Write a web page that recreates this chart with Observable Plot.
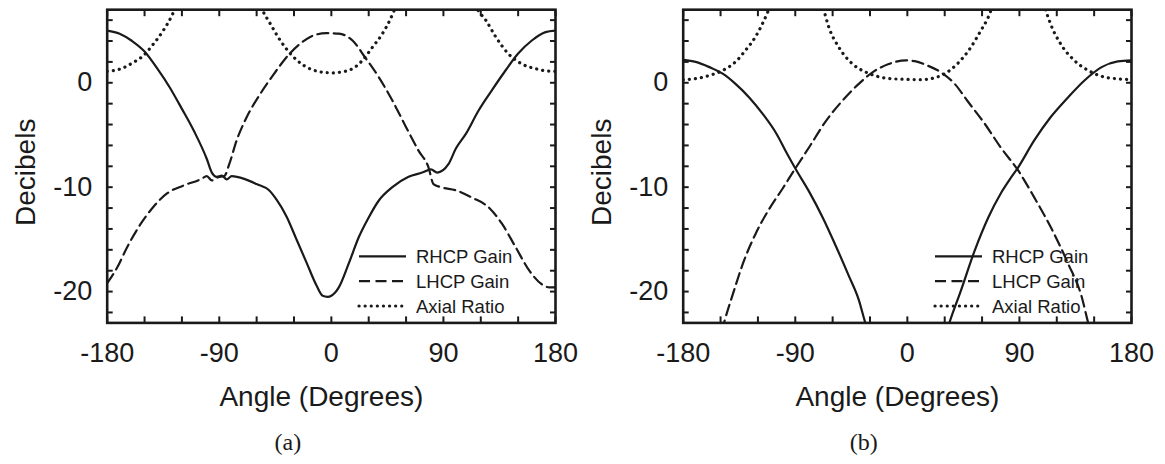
<!DOCTYPE html>
<html>
<head>
<meta charset="utf-8">
<script src="https://cdn.jsdelivr.net/npm/d3@7"></script>
<script src="https://cdn.jsdelivr.net/npm/@observablehq/plot@0.6"></script>
<style>
  body { margin: 0; background: #fff; }
  #fig { position: relative; width: 1165px; height: 464px; }
  #fig svg { position: absolute; top: 0; overflow: visible; }
</style>
</head>
<body>
<div id="fig"></div>
<script>
// Tick values
const xLabelTicks = [-180, -90, 0, 90, 180];
const xMinorTicks = [-180, -150, -120, -90, -60, -30, 0, 30, 60, 90, 120, 150, 180];
const yLabelTicks = [-20, -10, 0];
const yMinorTicks = [-22, -20, -18, -16, -14, -12, -10, -8, -6, -4, -2, 0, 2, 4, 6];

const seriesNames = ["RHCP Gain", "LHCP Gain", "Axial Ratio"];
const panelCaptions = ["(a)", "(b)"];

// Panel (a)
const aRhcpAngle = [-180,-170,-160,-150,-140,-130,-120,-110,-100,-96,-92,-88,-84,-80,-70,-60,-50,-44,-36,-28,-20,-12,-7,-3,0,6,14,22,30,38,49,62,73,80,85,94,100,108,118,129,140,150,161,172,180];
const aRhcpDb    = [5.0,4.7,4.0,3.0,1.4,-0.4,-2.5,-4.7,-7.3,-8.6,-9.0,-8.9,-9.25,-8.95,-9.2,-9.7,-10.3,-11.2,-12.8,-15.0,-17.2,-19.4,-20.4,-20.5,-20.4,-19.6,-17.3,-14.8,-12.9,-11.3,-10.0,-9.0,-8.6,-8.3,-8.6,-7.8,-6.3,-4.9,-2.7,-0.7,1.2,2.8,4.05,4.85,5.0];

const aLhcpAngle = [-180,-172,-164,-153,-143,-132,-119,-105,-100,-96,-91,-86,-82,-76,-68,-57,-46,-36,-25,-14,-4,6,17,27,38,49,60,70,78,82,88,100,113,126,137,148,159,169,175,180];
const aLhcpDb    = [-19.2,-17.7,-15.75,-13.5,-11.9,-10.6,-9.85,-9.25,-8.95,-9.35,-9.05,-8.95,-7.8,-5.5,-3.3,-1.05,0.86,2.45,3.75,4.55,4.75,4.7,4.05,2.45,0.55,-1.7,-4.25,-6.5,-8.1,-9.7,-10.0,-10.3,-11.0,-11.9,-13.5,-15.75,-18.0,-19.3,-19.6,-19.6];

const aArAngle = [-180,-170,-159,-151,-143,-135,-128,-122,-110,-90,-70,-60,-56,-49,-41,-33,-22,-11,0,6,17,25,33,41,47,50,54,70,90,110,115,118,124,132,142,153,164,177,180];
const aArDb    = [1.1,1.3,1.95,2.6,3.7,5.0,6.45,8.2,12,25,12,8.2,7.1,5.65,4.05,2.8,1.65,1.1,0.95,1.0,1.35,2.15,3.4,4.7,6.0,6.8,8.0,16,25,9.0,7.5,6.9,6.0,4.4,2.8,1.8,1.35,1.1,1.1];

// Panel (b)
const bRhcpAngle = [-180,-170,-159,-148,-138,-127,-116,-105,-97,-89,-79,-68,-57,-47,-39,-34,-31,0,31,34,43,54,65,75,82,89,102,115,129,142,156,169,180];
const bRhcpDb    = [2.2,2.0,1.5,0.85,-0.1,-1.4,-3.0,-4.9,-6.7,-8.4,-10.4,-12.9,-15.75,-18.5,-20.8,-22.9,-24.0,null,-24.0,-22.9,-19.9,-16.1,-12.9,-10.6,-9.3,-8.1,-5.5,-3.3,-1.4,0.2,1.5,2.05,2.15];

const bLhcpAngle = [-149,-147,-140,-132,-122,-111,-100,-91,-79,-65,-52,-39,-28,-15,-1,6,16,27,38,48,62,75,89,102,115,129,140,145,147];
const bLhcpDb    = [-23.8,-22.9,-20.2,-17.3,-14.5,-12.1,-10.1,-8.4,-6.2,-3.6,-1.7,-0.1,1.0,1.8,2.15,2.07,1.66,1.0,-0.1,-1.7,-3.9,-6.2,-8.4,-11.0,-13.8,-17.3,-20.5,-22.9,-23.8];

const bArAngle = [-180,-170,-159,-148,-138,-130,-122,-115,-112,-106,-90,-74,-67,-63,-55,-44,-33,-22,-12,0,11,22,30,40,51,59,65,67,72,90,108,111,115,123,134,145,158,169,180];
const bArDb    = [0.3,0.4,0.7,1.2,2.0,3.1,4.4,6.0,6.8,9,20,9,6.9,5.3,3.4,1.8,1.0,0.55,0.38,0.33,0.3,0.48,0.86,1.8,3.4,5.0,6.3,6.9,8.5,20,9,7.1,5.65,3.75,2.15,1.2,0.55,0.38,0.3];

const rows = (angles, values) => angles.map((angle, i) => ({angle, db: values[i]}));

const panels = [
  {caption: panelCaptions[0], left: 0,
   series: [rows(aRhcpAngle, aRhcpDb), rows(aLhcpAngle, aLhcpDb), rows(aArAngle, aArDb)]},
  {caption: panelCaptions[1], left: 575.6,
   series: [rows(bRhcpAngle, bRhcpDb), rows(bLhcpAngle, bLhcpDb), rows(bArAngle, bArDb)]}
];

const ink = "#1a1a1a";
const sans = "'Liberation Sans', Arial, Helvetica, sans-serif";
const serif = "'Liberation Serif', 'Times New Roman', serif";
const lineStyles = [
  {strokeWidth: 2.2},
  {strokeWidth: 2.2, strokeDasharray: "11,5.5"},
  {strokeWidth: 3.2, strokeDasharray: "0.1,6", strokeLinecap: "round"}
];

const fig = document.getElementById("fig");

for (const p of panels) {
  const marks = [];
  p.series.forEach((data, i) => {
    marks.push(Plot.line(data, {x: "angle", y: "db", stroke: ink, clip: true,
      curve: "monotone-x", ...lineStyles[i]}));
  });

  // inward ticks on all four sides (ticks shifted inside the frame by their own length)
  const tick = 6;
  const tickStyle = {tickSize: tick, strokeWidth: 2, tickFormat: () => "", label: null, stroke: ink};
  marks.push(
    Plot.axisX(xMinorTicks, {anchor: "bottom", insetBottom: tick, ...tickStyle}),
    Plot.axisX(xMinorTicks, {anchor: "top", insetTop: tick, ...tickStyle}),
    Plot.axisY(yMinorTicks, {anchor: "left", insetLeft: tick, ...tickStyle}),
    Plot.axisY(yMinorTicks, {anchor: "right", insetRight: tick, ...tickStyle}),
    Plot.axisX(xLabelTicks, {anchor: "bottom", tickSize: 0, tickPadding: 20, fontSize: 27,
      tickFormat: d => String(d), label: null, fill: ink}),
    Plot.axisY(yLabelTicks, {anchor: "left", tickSize: 0, tickPadding: 15, fontSize: 27,
      tickFormat: d => String(d), label: null, fill: ink}),
    Plot.frame({stroke: ink, strokeWidth: 2.6}),
    Plot.text(["Angle (Degrees)"], {text: d => d, frameAnchor: "bottom", dx: -10, dy: 74.5,
      fontSize: 28, fill: ink, lineAnchor: "middle", textAnchor: "middle"}),
    Plot.text(["Decibels"], {text: d => d, frameAnchor: "left", rotate: -90, dx: -81, dy: 6,
      fontSize: 28, fill: ink, lineAnchor: "middle", textAnchor: "middle"}),
    Plot.text([p.caption], {text: d => d, frameAnchor: "bottom", dx: -43.5, dy: 119,
      fontSize: 24, fontFamily: serif, fill: ink, lineAnchor: "middle", textAnchor: "middle"})
  );

  const svg = Plot.plot({
    width: 575,
    height: 464,
    marginLeft: 106.7,
    marginRight: 20,
    marginTop: 9.2,
    marginBottom: 141.6,
    style: {fontFamily: sans, color: ink, background: "transparent", overflow: "visible"},
    x: {domain: [-180, 180], axis: null},
    y: {domain: [-23, 7], axis: null},
    marks
  });
  svg.style.left = p.left + "px";

  // legend in the lower right of the frame
  const [, xr] = svg.scale("x").range;
  const [yb] = svg.scale("y").range;
  const g = d3.select(svg).append("g")
    .attr("font-family", sans).attr("font-size", 18.5).attr("fill", ink).attr("text-anchor", "start");
  seriesNames.forEach((name, i) => {
    const y = yb - 66 + i * 24.8;
    const st = lineStyles[i];
    g.append("line")
      .attr("x1", xr - 196).attr("x2", xr - 149).attr("y1", y).attr("y2", y)
      .attr("stroke", ink).attr("stroke-width", st.strokeWidth)
      .attr("stroke-dasharray", st.strokeDasharray || null)
      .attr("stroke-linecap", st.strokeLinecap || null);
    g.append("text").attr("x", xr - 139).attr("y", y).attr("dy", "0.36em").text(name);
  });

  fig.appendChild(svg);
}
</script>
</body>
</html>
